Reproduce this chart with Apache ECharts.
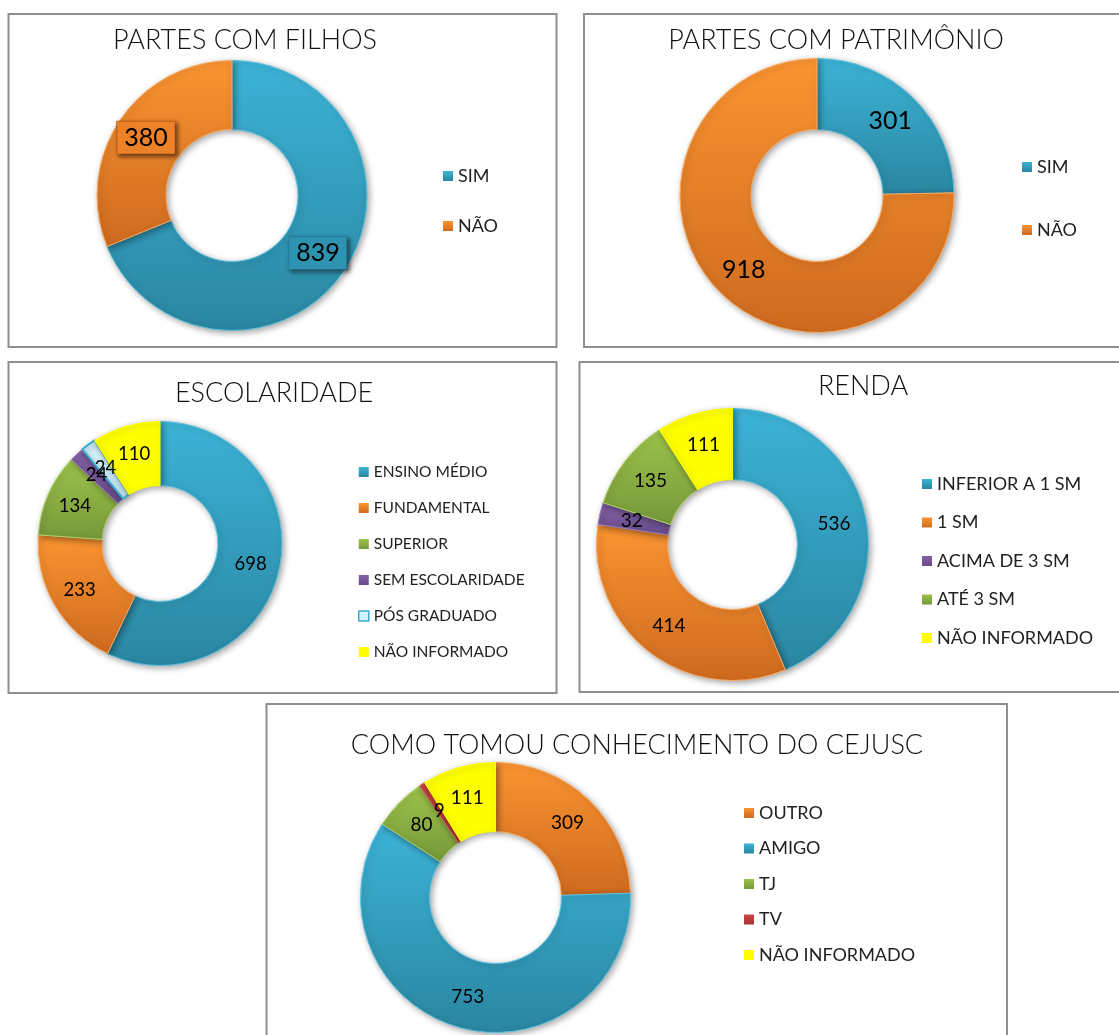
<!DOCTYPE html>
<html>
<head>
<meta charset="utf-8">
<script src="https://cdn.jsdelivr.net/npm/echarts@6/dist/echarts.min.js"></script>
<style>
html,body{margin:0;padding:0;background:#fff;}
#c{width:1119px;height:1035px;}
</style>
</head>
<body>
<div id="c"></div>
<script>
// ---- DATA ----
const filhosTitle = 'PARTES COM FILHOS';
const filhosCats = ['SIM', 'NÃO'];
const filhosVals = [839, 380];

const patrTitle = 'PARTES COM PATRIMÔNIO';
const patrCats = ['SIM', 'NÃO'];
const patrVals = [301, 918];

const escTitle = 'ESCOLARIDADE';
const escCats = ['ENSINO MÉDIO', 'FUNDAMENTAL', 'SUPERIOR', 'SEM ESCOLARIDADE', 'PÓS GRADUADO', 'NÃO INFORMADO'];
const escVals = [698, 233, 134, 24, 24, 110];

const rendaTitle = 'RENDA';
const rendaCats = ['INFERIOR A 1 SM', '1 SM', 'ACIMA DE 3 SM', 'ATÉ 3 SM', 'NÃO INFORMADO'];
const rendaVals = [536, 414, 32, 135, 111];

const cejTitle = 'COMO TOMOU CONHECIMENTO DO CEJUSC';
const cejCats = ['OUTRO', 'AMIGO', 'TJ', 'TV', 'NÃO INFORMADO'];
const cejVals = [309, 753, 80, 9, 111];

// ---- STYLE ----
const FONT = 'Lato, "Open Sans", sans-serif';
const PAL = {
  blue:   {top:'#3CB3D7', bot:'#2A86A1', mid:'#33A0C0', edge:'#5CC3E0'},
  orange: {top:'#FA9431', bot:'#CE6A1F', mid:'#EC8128', edge:'#FBAA60'},
  green:  {top:'#9DC34B', bot:'#769839', mid:'#8AAE42', edge:'#B2D46A'},
  purple: {top:'#8262A6', bot:'#684B8A', mid:'#765799', edge:'#9A7DBC'},
  red:    {top:'#CD4543', bot:'#A83434', mid:'#BE3E3C', edge:'#DA6A68'},
  yellow: {top:'#FFFF00', bot:'#FFFF00', mid:'#FFFF00', edge:'#FFFF00'},
  pos:    {top:'#D8F5FF', bot:'#C8EEFA', mid:'#D2F2FD', edge:'#3AAED2'}
};
function grad(p){
  return {type:'linear', x:0, y:0, x2:0, y2:1,
    colorStops:[{offset:0,color:p.top},{offset:1,color:p.bot}]};
}
function items(cats, vals, cols, extra){
  return cats.map((n,i)=>{
    const p = PAL[cols[i]];
    const o = {name:n, value:vals[i], itemStyle:{color:grad(p), borderColor:p.edge, borderWidth:(cols[i]==='pos'?2:1)}};
    if (extra && extra[i]) Object.assign(o, extra[i]);
    return o;
  });
}
function legendData(cats, cols){
  return cats.map((n,i)=>{
    const p = PAL[cols[i]];
    return {name:n, itemStyle:{color:grad(p), borderColor: cols[i]==='pos'? '#3AAED2' : p.mid, borderWidth: cols[i]==='pos'?1.5:0}};
  });
}
function pie(cats, vals, cols, center, radius, fs, extra){
  return {
    type:'pie', center:center, radius:radius, startAngle:90, clockwise:true,
    silent:true, animation:false,
    avoidLabelOverlap:false,
    labelLayout:{hideOverlap:false},
    label:{show:true, position:'inside', formatter:'{c}', color:'#000', fontSize:fs, fontFamily:FONT},
    labelLine:{show:false},
    itemStyle:{shadowBlur:6, shadowColor:'rgba(0,0,0,0.35)', shadowOffsetX:2, shadowOffsetY:2},
    emphasis:{disabled:true},
    data: items(cats, vals, cols, extra)
  };
}
function legend(cats, cols, left, top, gap, fs){
  return {
    left:left, top:top, orient:'vertical', padding:0,
    itemWidth:10, itemHeight:10, itemGap:gap, icon:'rect',
    selectedMode:false,
    textStyle:{fontSize:fs, fontFamily:FONT, color:'#222', lineHeight:20},
    data: legendData(cats, cols)
  };
}
function title(text, x, y, fs){
  return {type:'text', x:x, y:y, z:10, style:{text:text, fill:'#111', font:'300 '+fs+'px '+FONT, textAlign:'center', textVerticalAlign:'middle'}};
}
function box(x, y, w, h){
  return {type:'rect', z:0, shape:{x:x, y:y, width:w, height:h}, style:{fill:'none', stroke:'#8E8E8E', lineWidth:2}};
}

const filhosCols = ['blue','orange'];
const patrCols = ['blue','orange'];
const escCols = ['blue','orange','green','purple','pos','yellow'];
const rendaCols = ['blue','orange','purple','green','yellow'];
const cejCols = ['orange','blue','green','red','yellow'];

const boxLabel = (bg, bc)=>({label:{backgroundColor:bg, borderColor:bc, borderWidth:1, padding:[4,7,3,7], fontSize:25,
  shadowBlur:4, shadowColor:'rgba(0,0,0,0.45)', shadowOffsetX:2, shadowOffsetY:2}});

const chart = echarts.init(document.getElementById('c'), null, {renderer:'canvas'});
chart.setOption({
  backgroundColor:'#fff',
  animation:false,
  graphic:[
    box(8.5, 14, 548, 333),
    box(584, 14, 600, 333),
    box(8.5, 362, 548, 331),
    box(579.5, 362, 600, 330),
    box(266.5, 704, 740.5, 400),
    title(filhosTitle, 245, 40, 27),
    title(patrTitle, 836, 40, 27),
    title(escTitle, 274, 393, 27),
    title(rendaTitle, 863, 386, 27),
    title(cejTitle, 637, 745, 27)
  ],
  legend:[
    legend(filhosCats, filhosCols, 443, 166, 30, 18),
    legend(patrCats, patrCols, 1022, 157, 43, 18),
    legend(escCats, escCols, 358, 462, 16, 15.5),
    legend(rendaCats, rendaCols, 922, 474, 18.5, 18),
    legend(cejCats, cejCols, 744, 803, 15.5, 18)
  ],
  series:[
    pie(filhosCats, filhosVals, filhosCols, [232,195.5], [66,135], 25,
        [boxLabel('#2E93B1','#2A86A1'), boxLabel('#EC8127','#C8661C')]),
    pie(patrCats, patrVals, patrCols, [817,195.5], [66,137], 25),
    pie(escCats, escVals, escCols, [160,543.5], [58,122], 18.5),
    pie(rendaCats, rendaVals, rendaCols, [732.5,544.5], [65,136], 19),
    pie(cejCats, cejVals, cejCols, [495.5,897.5], [66,135], 19)
  ]
});
</script>
</body>
</html>
